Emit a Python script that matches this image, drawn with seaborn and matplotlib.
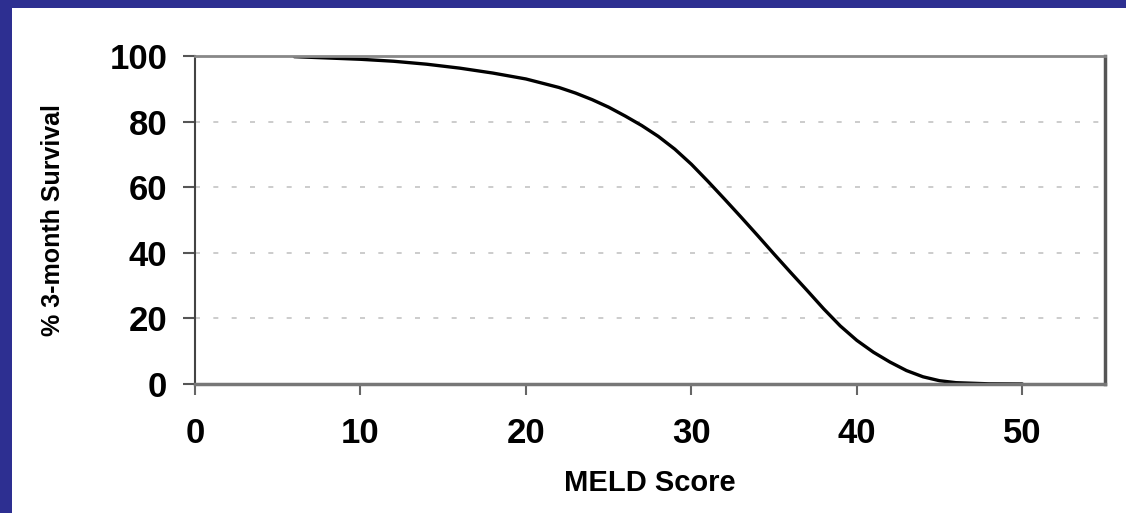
import matplotlib
matplotlib.use("Agg")
import matplotlib.pyplot as plt
import seaborn as sns
import pandas as pd
from matplotlib.patches import Rectangle

# Data
meld_score = [6, 8, 10, 12, 14, 16, 18, 20, 22, 23, 24, 25, 26, 27, 28, 29, 30, 31, 32, 33, 34,
              35, 36, 37, 38, 39, 40, 41, 42, 43, 44, 45, 46, 48, 50]
survival = [99.8, 99.4, 99.0, 98.4, 97.5, 96.3, 94.8, 93.0, 90.4, 88.7, 86.7, 84.4, 81.7, 78.8,
            75.5, 71.6, 67.0, 61.8, 56.4, 50.9, 45.3, 39.6, 34.0, 28.5, 22.9, 17.7, 13.3, 9.7,
            6.7, 4.1, 2.2, 1.0, 0.4, 0.05, 0.0]
x_ticks = [0, 10, 20, 30, 40, 50]
y_ticks = [0, 20, 40, 60, 80, 100]

df = pd.DataFrame({"MELD Score": meld_score, "Survival": survival})

sns.set_theme(style="white")
plt.rcParams["font.family"] = ["Liberation Sans", "DejaVu Sans"]

fig = plt.figure(figsize=(11.26, 5.13), dpi=100, facecolor="white")
ax = fig.add_axes([195 / 1126, 1 - 384 / 513, 910 / 1126, 328 / 513])

# blue slide border (top and left)
fig.patches.append(Rectangle((0, 1 - 8 / 513), 1, 8 / 513, transform=fig.transFigure,
                             facecolor="#2D2F91", edgecolor="none", zorder=-1))
fig.patches.append(Rectangle((0, 0), 12 / 1126, 1, transform=fig.transFigure,
                             facecolor="#2D2F91", edgecolor="none", zorder=-1))

for yv in [20, 40, 60, 80]:
    ax.axhline(yv, color="#c4c4c4", linestyle=(0, (3, 8)), linewidth=1.2, zorder=0)

sns.lineplot(data=df, x="MELD Score", y="Survival", ax=ax, color="black", linewidth=2.4)

ax.set_xlim(0, 55)
ax.set_ylim(0, 100)
ax.set_xticks(x_ticks)
ax.set_yticks(y_ticks)
ax.set_xticklabels([str(t) for t in x_ticks], fontsize=25, fontweight="bold", color="black")
ax.set_yticklabels([str(t) for t in y_ticks], fontsize=25, fontweight="bold", color="black")
ax.tick_params(axis="x", direction="out", length=8, width=1.5, color="#666666", pad=16, bottom=True)
ax.tick_params(axis="y", direction="out", length=9, width=1.5, color="#555555", pad=11, left=True)

ax.set_xlabel("MELD Score", fontsize=21, fontweight="bold", color="black")
ax.set_ylabel("% 3-month Survival", fontsize=18, fontweight="bold", color="black")
ax.xaxis.set_label_coords(0.5, -0.26)
ax.yaxis.set_label_coords(-0.143, 0.5)

ax.spines["top"].set_color("#888888")
ax.spines["top"].set_linewidth(2.0)
ax.spines["left"].set_color("#444444")
ax.spines["left"].set_linewidth(1.5)
ax.spines["right"].set_color("#555555")
ax.spines["right"].set_linewidth(2.5)
ax.spines["bottom"].set_color("#777777")
ax.spines["bottom"].set_linewidth(2.5)
for s in ax.spines.values():
    s.set_visible(True)

ax.set_facecolor("white")
fig.savefig("out.png", dpi=100, facecolor="white")
